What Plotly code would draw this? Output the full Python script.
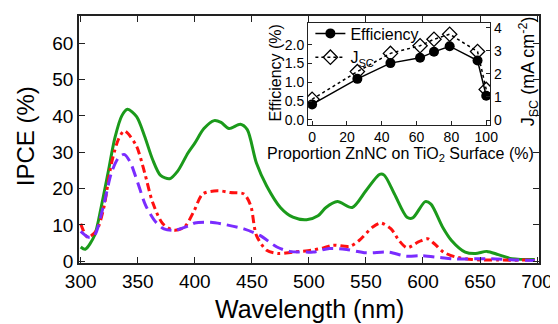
import plotly.graph_objects as go

# Main IPCE spectra
green_nm = [300, 304, 312, 318, 324, 330, 336, 341, 349, 356, 363, 370, 378, 385, 394, 400, 408, 417, 423, 430, 440, 446, 454, 463, 475, 486, 498, 508, 515, 525, 538, 550, 562, 566, 575, 586, 591, 602, 607, 617, 625, 637, 646, 656, 666, 678, 698]
green_val = [3.9, 3.3, 7, 15, 24.4, 34, 40, 41.8, 39.8, 34.4, 28, 23.6, 22.7, 24.8, 29.8, 32.5, 36.5, 38.7, 38.2, 36.5, 37.7, 36.2, 27, 20.7, 14.8, 12.1, 11.4, 12.5, 14.8, 16.4, 14.8, 19.4, 23.9, 23.7, 18.5, 12.1, 11.9, 16.4, 15.7, 9.5, 5.7, 2.5, 2.1, 2.7, 1.8, 0.7, 0.45]

red_nm = [300, 306, 314, 320, 327, 333, 338, 341, 349, 356, 363, 372, 382, 391, 399, 407, 420, 431, 443, 449, 454, 463, 473, 486, 502, 512, 521, 536, 544, 556, 563, 572, 579, 586, 596, 604, 610, 618, 628, 643, 666, 698]
red_val = [10.3, 6.6, 8.5, 14.4, 27, 33.5, 35.9, 35.3, 31.6, 24.4, 16.2, 10.3, 8.5, 9.4, 13.6, 18.5, 19.4, 18.9, 18.5, 15.3, 7.1, 3.0, 2.1, 2.5, 3.0, 3.6, 4.4, 4.1, 5.7, 9.4, 10.5, 8.9, 5.7, 3.7, 5.3, 6.2, 4.8, 2.5, 1.2, 0.45, 0.3, 0.3]

purple_nm = [300, 307, 312, 320, 327, 333, 338, 343, 350, 357, 366, 373, 382, 395, 400, 414, 428, 443, 457, 472, 483, 498, 504, 518, 533, 550, 570, 585, 599, 615, 628, 660, 677, 698]
purple_val = [8.2, 6.6, 7.1, 15.3, 24.4, 28.4, 29.4, 27.5, 21.6, 15.3, 10.7, 8.9, 8.5, 9.8, 10.5, 10.7, 10.0, 8.9, 7.1, 3.9, 2.7, 2.5, 2.5, 3.5, 3.2, 2.3, 2.5, 1.4, 1.5, 1.0, 0.6, 0.7, 0.4, 0.2]

# Inset data
proportion = [0, 26, 45, 62, 70, 79, 95, 100]
efficiency = [0.41, 1.09, 1.51, 1.65, 1.81, 1.96, 1.58, 0.64]
jsc = [0.9, 2.1, 2.89, 3.22, 3.5, 3.72, 2.97, 1.33]

x_ticks = [300, 350, 400, 450, 500, 550, 600, 650, 700]
y_ticks = [0, 10, 20, 30, 40, 50, 60]
inset_x_ticks = [0, 20, 40, 60, 80, 100]
inset_eff_ticks = [0.0, 0.5, 1.0, 1.5, 2.0]
inset_jsc_ticks = [0, 1, 2, 3, 4]

FONT = "Liberation Sans, Arial, sans-serif"
AX = "#222222"

fig = go.Figure()
fig.add_trace(go.Scatter(x=green_nm, y=green_val, mode="lines", showlegend=False,
                         line=dict(color="#1b9a1b", width=3, shape="spline", smoothing=0.8)))
fig.add_trace(go.Scatter(x=red_nm, y=red_val, mode="lines", showlegend=False,
                         line=dict(color="#ff1010", width=3, dash="8px,4px,3px,4px", shape="spline", smoothing=0.8)))
fig.add_trace(go.Scatter(x=purple_nm, y=purple_val, mode="lines", showlegend=False,
                         line=dict(color="#7a2cff", width=3, dash="11px,6px", shape="spline", smoothing=0.8)))

fig.add_trace(go.Scatter(x=proportion, y=efficiency, mode="lines+markers", name="Efficiency",
                         xaxis="x2", yaxis="y2",
                         line=dict(color="black", width=1.5),
                         marker=dict(symbol="circle", size=10, color="black")))
fig.add_trace(go.Scatter(x=proportion, y=jsc, mode="lines+markers", name="J<sub>SC</sub>",
                         xaxis="x2", yaxis="y3",
                         line=dict(color="black", width=1.5, dash="dot"),
                         marker=dict(symbol="diamond-open", size=11, color="black", line=dict(width=1.3))))

fig.update_layout(
    width=550, height=316,
    margin=dict(l=71, r=15, t=5, b=61),
    paper_bgcolor="white", plot_bgcolor="white",
    font=dict(family=FONT, color="black"),
    xaxis=dict(range=[298.5, 701.7], tickvals=x_ticks, ticks="inside", ticklen=6, tickwidth=1.2,
               tickcolor=AX, showline=True, linecolor=AX, linewidth=1.5, mirror="ticks",
               showgrid=False, zeroline=False, tickfont=dict(size=19)),
    yaxis=dict(range=[-0.5, 67.5], tickvals=y_ticks, ticks="inside", ticklen=6, tickwidth=1.2,
               tickcolor=AX, showline=True, linecolor=AX, linewidth=1.5, mirror="ticks",
               showgrid=False, zeroline=False, tickfont=dict(size=19)),
    xaxis2=dict(domain=[0.498, 0.894], anchor="y2", range=[-2.3, 102.3], tickvals=inset_x_ticks,
                ticks="inside", ticklen=4, tickcolor=AX, showline=True, linecolor=AX, linewidth=1,
                mirror=True, showgrid=False, zeroline=False, tickfont=dict(size=14)),
    yaxis2=dict(domain=[0.56, 0.972], anchor="x2", range=[-0.13, 2.58], tickvals=inset_eff_ticks,
                tickformat=".1f", ticks="inside", ticklen=4, tickcolor=AX, showline=True, linecolor=AX,
                linewidth=1, showgrid=False, zeroline=False, tickfont=dict(size=14)),
    yaxis3=dict(overlaying="y2", anchor="x2", side="right", range=[-0.2, 4.21], tickvals=inset_jsc_ticks,
                ticks="inside", ticklen=4, tickcolor=AX, showline=True, linecolor=AX, linewidth=1,
                showgrid=False, zeroline=False, tickfont=dict(size=14)),
    legend=dict(x=0.503, y=0.998, xanchor="left", yanchor="top", bgcolor="rgba(0,0,0,0)",
                font=dict(size=16), tracegroupgap=0, itemwidth=30),
    annotations=[
        dict(text="IPCE (%)", x=-0.116, y=0.512, xref="paper", yref="paper", textangle=-90,
             showarrow=False, font=dict(size=24), xanchor="center", yanchor="middle"),
        dict(text="Wavelength (nm)", x=0.5, y=-0.188, xref="paper", yref="paper",
             showarrow=False, font=dict(size=25), xanchor="center", yanchor="middle"),
        dict(text="Efficiency (%)", x=0.4267, y=0.772, xref="paper", yref="paper", textangle=-90,
             showarrow=False, font=dict(size=16), xanchor="center", yanchor="middle"),
        dict(text="J<sub>SC</sub> (mA cm<sup>-2</sup>)", x=0.976, y=0.776, xref="paper", yref="paper",
             textangle=-90, showarrow=False, font=dict(size=18), xanchor="center", yanchor="middle"),
        dict(text="Proportion ZnNC on TiO<sub>2</sub> Surface (%)", x=0.698, y=0.44, xref="paper",
             yref="paper", showarrow=False, font=dict(size=16), xanchor="center", yanchor="middle"),
    ],
)

fig.write_html("out.html")
